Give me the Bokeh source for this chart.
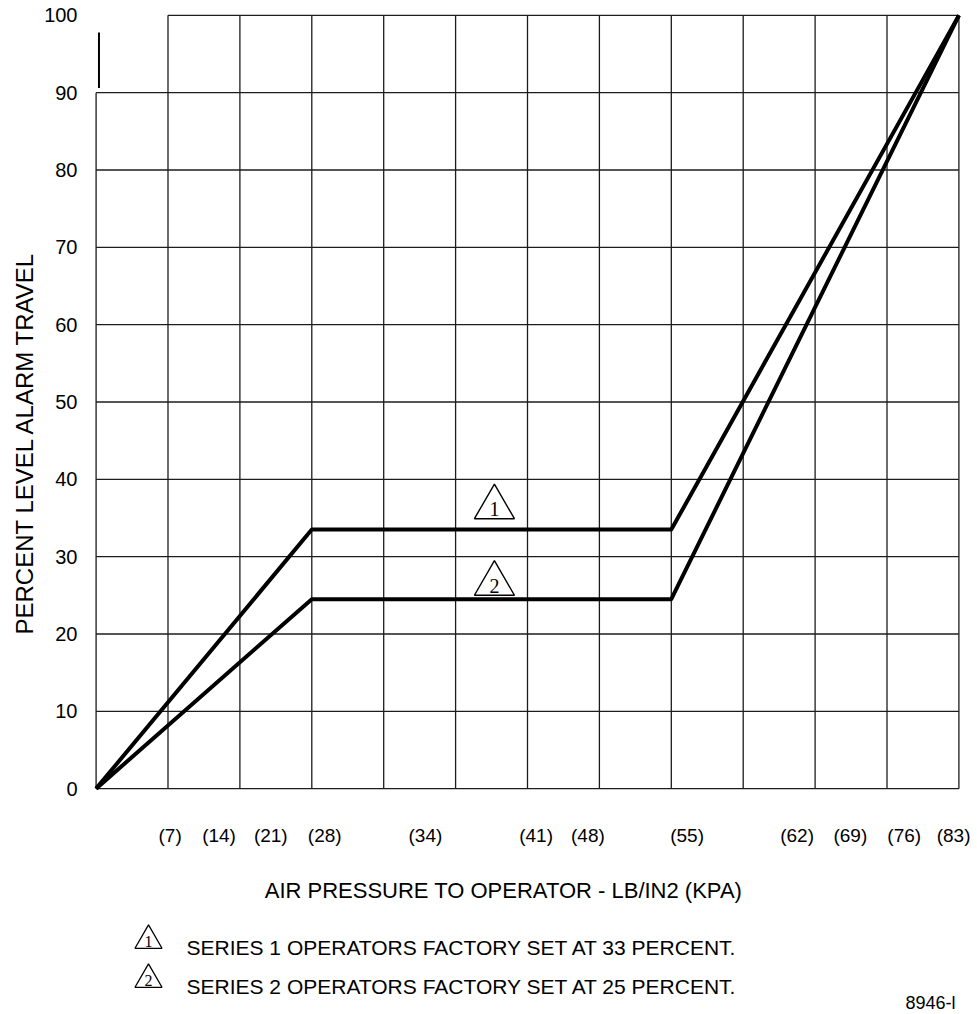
from bokeh.plotting import figure
from bokeh.models import Range1d, FixedTicker, Title
from bokeh.layouts import column
from bokeh.embed import file_html
from bokeh.resources import INLINE
from bokeh.core.properties import value

# ---------------- data ----------------
psi_grid = list(range(0, 13))          # vertical grid lines (LB/IN2)
pct_grid = list(range(0, 101, 10))     # horizontal grid lines (percent)

series1_x = [0, 3, 8, 12]
series1_y = [0, 33.5, 33.5, 100]
series2_x = [0, 3, 8, 12]
series2_y = [0, 24.5, 24.5, 100]

kpa_labels = ["(7)", "(14)", "(21)", "(28)", "(34)", "(41)", "(48)",
              "(55)", "(62)", "(69)", "(76)", "(83)"]
kpa_label_pos = [1.03, 1.71, 2.43, 3.18, 4.58, 6.12, 6.84,
                 8.22, 9.75, 10.49, 11.24, 11.95]
y_ticks = list(range(0, 101, 10))

callout_ids = ["1", "2"]
callout_x = [5.54, 5.54]
callout_y = [36.4, 26.5]

x_title = "AIR PRESSURE TO OPERATOR - LB/IN2 (KPA)"
y_title = "PERCENT LEVEL ALARM TRAVEL"
notes = ["SERIES 1 OPERATORS FACTORY SET AT 33 PERCENT.",
         "SERIES 2 OPERATORS FACTORY SET AT 25 PERCENT."]
drawing_no = "8946-l"

FONT = "Liberation Sans"
SERIF = "Liberation Serif"
GRID = "#1c1c1c"

# ---------------- main chart ----------------
p = figure(width=970, height=852,
           x_range=Range1d(-0.05, 12.05), y_range=Range1d(-0.5, 100.5),
           output_backend="svg", toolbar_location=None,
           min_border_left=92, min_border_right=8,
           min_border_top=11, min_border_bottom=60)
p.grid.visible = False
p.outline_line_color = None
p.background_fill_color = "white"
p.border_fill_color = "white"

# grid drawn as segments (scan has a gap at the top-left corner)
vx0, vy0, vx1, vy1 = [], [], [], []
for gx in psi_grid:
    vx0.append(gx); vx1.append(gx)
    vy0.append(0); vy1.append(90 if gx == psi_grid[0] else 100)
hx0, hy0, hx1, hy1 = [], [], [], []
for gy in pct_grid:
    hy0.append(gy); hy1.append(gy)
    hx0.append(1 if gy == pct_grid[-1] else 0); hx1.append(psi_grid[-1])
p.segment(vx0, vy0, vx1, vy1, line_color=GRID, line_width=1.3)
p.segment(hx0, hy0, hx1, hy1, line_color=GRID, line_width=1.3)
# small stub near the top of the left border
p.segment([0.04], [90.6], [0.04], [97.8], line_color="black", line_width=2)

p.line(series1_x, series1_y, line_color="black", line_width=4, line_join="round")
p.line(series2_x, series2_y, line_color="black", line_width=4, line_join="round")

p.scatter(callout_x, callout_y, marker="triangle", size=40,
          fill_color="white", line_color="black", line_width=1.4)
p.text(callout_x, callout_y, text=callout_ids, text_font=value(SERIF),
       text_font_size="20px", text_align="center", text_baseline="middle",
       y_offset=2, text_color="black")

for ax in (p.xaxis, p.yaxis):
    ax.axis_line_color = None
    ax.major_tick_line_color = None
    ax.minor_tick_line_color = None
    ax.major_tick_out = 0
    ax.major_tick_in = 0
    ax.minor_tick_out = 0
    ax.minor_tick_in = 0
    ax.major_label_text_font = FONT
    ax.major_label_text_color = "black"

# y axis
p.yaxis.ticker = FixedTicker(ticks=y_ticks)
p.yaxis.major_label_standoff = 15
p.yaxis.major_label_text_font_size = "20px"
p.add_layout(Title(text=y_title, align="left", offset=158,
                   text_font=FONT, text_font_size="24px", text_font_style="normal",
                   text_color="black", standoff=7), "left")

# x axis
p.xaxis.ticker = FixedTicker(ticks=kpa_label_pos)
p.xaxis.major_label_overrides = {pos: lab for pos, lab in zip(kpa_label_pos, kpa_labels)}
p.xaxis.major_label_standoff = 32
p.xaxis.major_label_text_font_size = "19px"

# ---------------- axis title and notes below (data units = page pixels) ----------------
q = figure(width=970, height=162, x_range=Range1d(92, 962), y_range=Range1d(1014, 852),
           output_backend="svg", toolbar_location=None,
           min_border_left=92, min_border_right=8, min_border_top=0, min_border_bottom=0)
q.axis.visible = False
q.grid.visible = False
q.outline_line_color = None

q.text([503], [890], text=[x_title], text_font=value(FONT), text_font_size="22px",
       text_align="center", text_baseline="middle", text_color="black")

note_x = [186, 186]
note_y = [947, 986]
mark_x = [148, 148]
mark_y = [940, 979]
q.scatter(mark_x, mark_y, marker="triangle", size=27,
          fill_color="white", line_color="black", line_width=1.3)
q.text(mark_x, mark_y, text=callout_ids, text_font=value(SERIF), text_font_size="16px",
       text_align="center", text_baseline="middle", y_offset=1, text_color="black")
q.text(note_x, note_y, text=notes, text_font=value(FONT), text_font_size="21px",
       text_align="left", text_baseline="middle", text_color="black")
q.text([905], [1002], text=[drawing_no], text_font=value(FONT), text_font_size="18px",
       text_align="left", text_baseline="middle", text_color="black")

layout = column(p, q, spacing=0)
open("out.html", "w").write(file_html(layout, INLINE))
